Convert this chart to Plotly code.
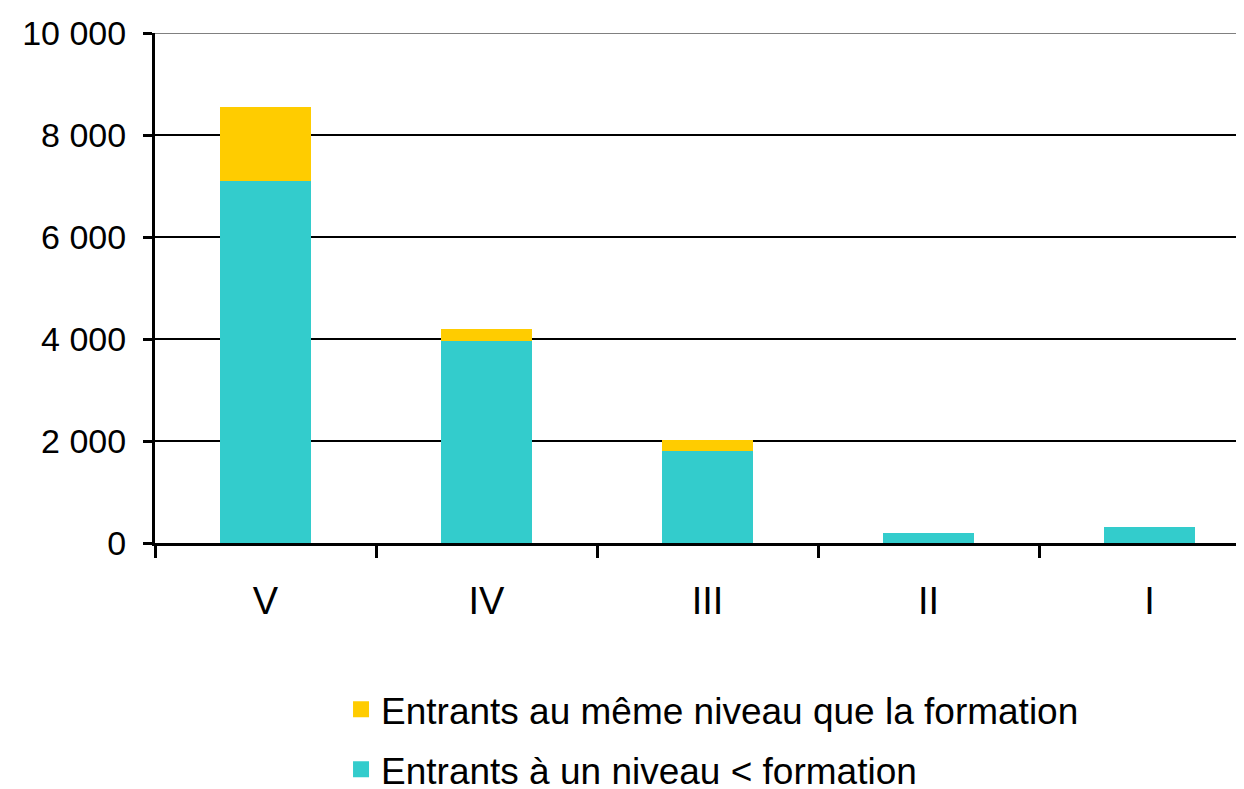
import plotly.graph_objects as go

categories = ["V", "IV", "III", "II", "I"]
niveau_inferieur = [7100, 3960, 1800, 190, 310]
meme_niveau = [1450, 240, 220, 0, 0]
tick_vals = [0, 2000, 4000, 6000, 8000, 10000]
tick_text = ["0", "2 000", "4 000", "6 000", "8 000", "10 000"]

name_inf = "Entrants à un niveau < formation"
name_meme = "Entrants au même niveau que la formation"
col_inf = "#33CCCC"
col_meme = "#FFCC00"

fig = go.Figure()
fig.add_trace(go.Bar(
    x=categories, y=niveau_inferieur, name=name_inf,
    marker=dict(color=col_inf, line=dict(width=0)), showlegend=False,
))
fig.add_trace(go.Bar(
    x=categories, y=meme_niveau, name=name_meme,
    marker=dict(color=col_meme, line=dict(width=0)), showlegend=False,
))
# legend entries with larger square swatches
fig.add_trace(go.Scatter(
    x=[None], y=[None], mode="markers", name=name_meme,
    marker=dict(symbol="square", size=22, color=col_meme), legendgroup="a", legendrank=1,
))
fig.add_trace(go.Scatter(
    x=[None], y=[None], mode="markers", name=name_inf,
    marker=dict(symbol="square", size=22, color=col_inf), legendgroup="b", legendrank=2,
))

# top border gridline is grey in the reference
fig.add_shape(type="line", xref="paper", yref="y", x0=0, x1=1, y0=tick_vals[-1], y1=tick_vals[-1],
              line=dict(color="#808080", width=2), layer="above")

fig.update_layout(
    barmode="stack",
    bargap=0.59,
    width=1252, height=789,
    margin=dict(l=147, r=0, t=25, b=254, autoexpand=False),
    paper_bgcolor="white", plot_bgcolor="white",
    font=dict(family="Liberation Sans, Arial, sans-serif", color="black", size=34),
    showlegend=True,
    legend=dict(
        xref="container", yref="container",
        x=0.266, y=0.15, xanchor="left", yanchor="top",
        orientation="v",
        font=dict(family="Liberation Sans, Arial", size=37),
        tracegroupgap=9,
        itemwidth=30,
    ),
    xaxis=dict(
        automargin=False,
        showline=True, linecolor="black", linewidth=3,
        ticks="outside", tickson="boundaries", ticklen=12, tickwidth=3, tickcolor="black",
        tickfont=dict(size=38),
        ticklabelstandoff=22,
        showgrid=False,
    ),
    yaxis=dict(
        automargin=False,
        range=[0, 10000],
        tickvals=tick_vals, ticktext=tick_text,
        showline=True, linecolor="black", linewidth=3,
        ticks="outside", ticklen=9, tickwidth=3, tickcolor="black",
        showgrid=True, gridcolor="black", gridwidth=2,
        zeroline=False,
        tickfont=dict(size=34),
        ticklabelstandoff=10,
    ),
)

fig.write_html("out.html")
